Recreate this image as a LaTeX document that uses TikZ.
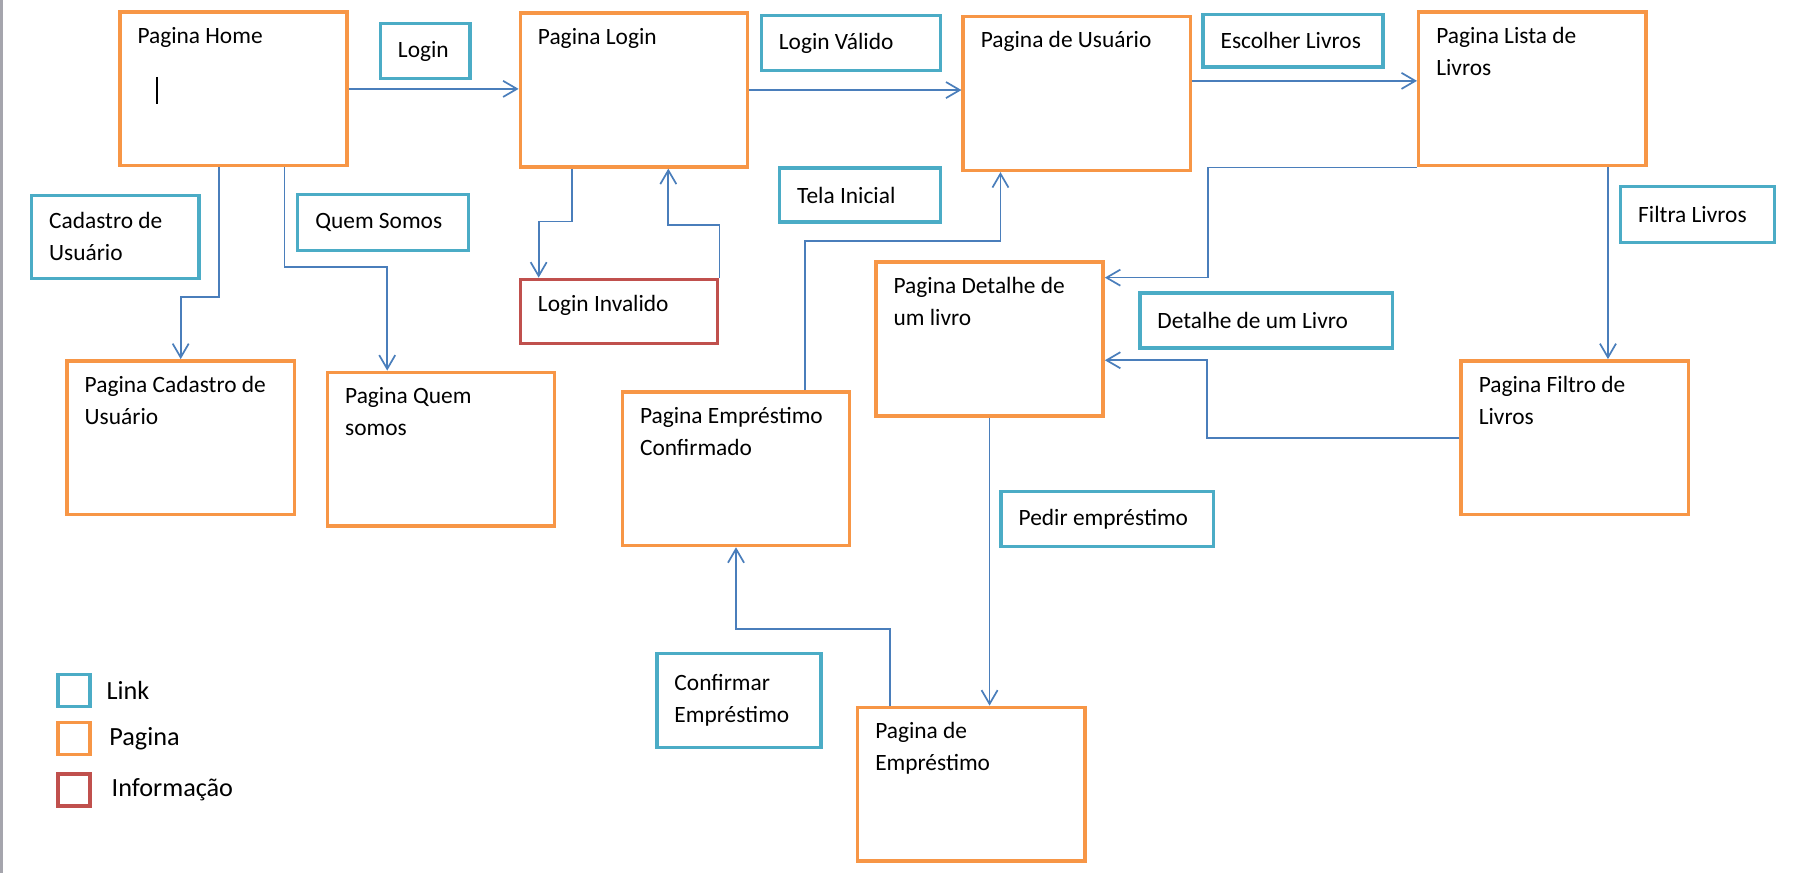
\documentclass[tikz,border=0pt]{standalone}
\usepackage{fontspec}
\setmainfont{Carlito}
\usetikzlibrary{positioning,arrows.meta}

\definecolor{pagecol}{HTML}{F79646}
\definecolor{linkcol}{HTML}{4BACC6}
\definecolor{infocol}{HTML}{C0504D}
\definecolor{flowcol}{HTML}{4A7EBB}
\definecolor{edgecol}{HTML}{A5A5AD}

\begin{document}
\begin{tikzpicture}[
    pagebox/.style={rectangle, draw=pagecol, line width=1.7pt, anchor=north west,
      minimum width=3.96cm, minimum height=2.68cm},
    pagetext/.style={anchor=north west, align=flush left, text width=3.5cm, inner sep=0pt, text height=8.5pt,
      xshift=0.33cm, yshift=-0.27cm, font=\fontsize{11.6pt}{15.9pt}\selectfont,
      execute at begin node={\spaceskip=0pt\xspaceskip=0pt}},
    linkbox/.style={rectangle, draw=linkcol, line width=1.7pt, anchor=north west},
    linktext/.style={anchor=west, align=left, inner sep=0pt, xshift=0.33cm,
      font=\fontsize{11.6pt}{15.9pt}\selectfont},
    infobox/.style={linkbox, draw=infocol},
    keybox/.style={rectangle, line width=1.7pt, minimum size=0.56cm, inner sep=0pt, anchor=north west},
    keytext/.style={inner sep=0pt, font=\fontsize{13pt}{16pt}\selectfont},
    flowarrow/.style={draw=flowcol, line width=0.85pt, -{Straight Barb[length=0.24cm, width=0.28cm]}}
  ]
  \useasboundingbox (0,0) rectangle (31.36,-15.22);
  \fill[edgecol] (0,0) rectangle (0.06,-15.22);

  % paginas
  \node (home) [pagebox, label={[pagetext]north west:Pagina Home}] at (2.06,-0.18) {};
  \node (login) [pagebox, label={[pagetext]north west:Pagina Login}] at (9.04,-0.20) {};
  \node (usuario) [pagebox, label={[pagetext]north west:Pagina de Usuário}] at (16.76,-0.26) {};
  \node (lista) [pagebox, label={[pagetext]north west:Pagina Lista de\\Livros}] at (24.70,-0.18) {};
  \node (cadpage) [pagebox, label={[pagetext]north west:Pagina Cadastro de\\Usuário}] at (1.14,-6.26) {};
  \node (quempage) [pagebox, label={[pagetext]north west:Pagina Quem\\somos}] at (5.68,-6.46) {};
  \node (detalhe) [pagebox, label={[pagetext]north west:Pagina Detalhe de\\um livro}] at (15.24,-4.54) {};
  \node (confirmado) [pagebox, label={[pagetext]north west:Pagina Empréstimo\\Confirmado}] at (10.82,-6.80) {};
  \node (filtro) [pagebox, label={[pagetext]north west:Pagina Filtro de\\Livros}] at (25.44,-6.26) {};
  \node (emprestimo) [pagebox, label={[pagetext]north west:Pagina de\\Empréstimo}] at (14.92,-12.30) {};

  % cursor
  \draw[line width=1.1pt] (2.74,-1.34) -- (2.74,-1.82);

  % links
  \node (lklogin) [linkbox, minimum width=1.56cm, minimum height=0.96cm,
    label={[linktext]west:Login}] at (6.60,-0.38) {};
  \node (lkvalido) [linkbox, minimum width=3.12cm, minimum height=0.96cm,
    label={[linktext]west:Login Válido}] at (13.24,-0.24) {};
  \node (lkescolher) [linkbox, minimum width=3.14cm, minimum height=0.92cm,
    label={[linktext]west:Escolher Livros}] at (20.94,-0.22) {};
  \node (lkcadastro) [linkbox, minimum width=2.92cm, minimum height=1.44cm,
    label={[linktext]west:Cadastro de\\Usuário}] at (0.52,-3.38) {};
  \node (lkquem) [linkbox, minimum width=2.98cm, minimum height=0.98cm,
    label={[linktext]west:Quem Somos}] at (5.16,-3.36) {};
  \node (lktela) [linkbox, minimum width=2.80cm, minimum height=0.94cm,
    label={[linktext]west:Tela Inicial}] at (13.56,-2.90) {};
  \node (lkfiltra) [linkbox, minimum width=2.68cm, minimum height=0.98cm,
    label={[linktext]west:Filtra Livros}] at (28.22,-3.22) {};
  \node (lkdetalhe) [linkbox, minimum width=4.40cm, minimum height=0.96cm,
    label={[linktext]west:Detalhe de um Livro}] at (19.84,-5.08) {};
  \node (lkpedir) [linkbox, minimum width=3.70cm, minimum height=0.96cm,
    label={[linktext]west:Pedir empréstimo}] at (17.42,-8.54) {};
  \node (lkconfirmar) [linkbox, minimum width=2.86cm, minimum height=1.64cm,
    label={[linktext]west:Confirmar\\Empréstimo}] at (11.42,-11.36) {};

  % informacao
  \node (invalido) [infobox, minimum width=3.44cm, minimum height=1.12cm,
    label={[linktext, yshift=0.1cm]west:Login Invalido}] at (9.04,-4.84) {};

  % fluxo
  \coordinate (uout) at ([yshift=0.22cm]usuario.east);
  \coordinate (lout) at ([xshift=1.32cm]lista.south);
  \draw[flowarrow] (home.east) -- (home.east -| login.west);
  \draw[flowarrow] (login.east) -- (login.east -| usuario.west);
  \draw[flowarrow] (uout) -- (uout -| lista.west);
  \draw[flowarrow] ([xshift=-0.25cm]home.south) |- ([yshift=1.08cm]cadpage.north) -- (cadpage.north);
  \draw[flowarrow] ([xshift=0.89cm]home.south) |- ([xshift=-0.94cm,yshift=1.8cm]quempage.north)
    -- ([xshift=-0.94cm]quempage.north);
  \draw[flowarrow] ([xshift=-1.08cm]login.south) |- ([xshift=-1.40cm,yshift=0.98cm]invalido.north)
    -- ([xshift=-1.40cm]invalido.north);
  \draw[flowarrow] (invalido.north east) |- ([xshift=0.6cm,yshift=-0.98cm]login.south)
    -- ([xshift=0.6cm]login.south);
  \draw[flowarrow] ([xshift=1.2cm]confirmado.north) |- ([xshift=-1.33cm,yshift=-1.2cm]usuario.south)
    -- ([xshift=-1.33cm]usuario.south);
  \draw[flowarrow] (lista.south west) -| ([xshift=1.8cm,yshift=1.07cm]detalhe.east)
    -- ([yshift=1.07cm]detalhe.east);
  \draw[flowarrow] (filtro.west) -| ([xshift=1.78cm,yshift=-0.37cm]detalhe.east)
    -- ([yshift=-0.37cm]detalhe.east);
  \draw[flowarrow] (lout) -- (lout |- filtro.north);
  \draw[flowarrow] (detalhe.south) -- (detalhe.south |- emprestimo.north);
  \draw[flowarrow] ([xshift=-1.42cm]emprestimo.north) |- ([yshift=-1.42cm]confirmado.south)
    -- (confirmado.south);

  % legenda
  \node (keylink) [keybox, draw=linkcol] at (0.98,-11.73) {};
  \node (keypage) [keybox, draw=pagecol] at (0.98,-12.56) {};
  \node (keyinfo) [keybox, draw=infocol] at (0.98,-13.46) {};
  \node (keylinktext) [keytext, right=0.25cm of keylink] {Link};
  \node (keypagetext) [keytext, right=0.30cm of keypage] {Pagina};
  \node (keyinfotext) [keytext, right=0.34cm of keyinfo] {Informação};
\end{tikzpicture}
\end{document}
